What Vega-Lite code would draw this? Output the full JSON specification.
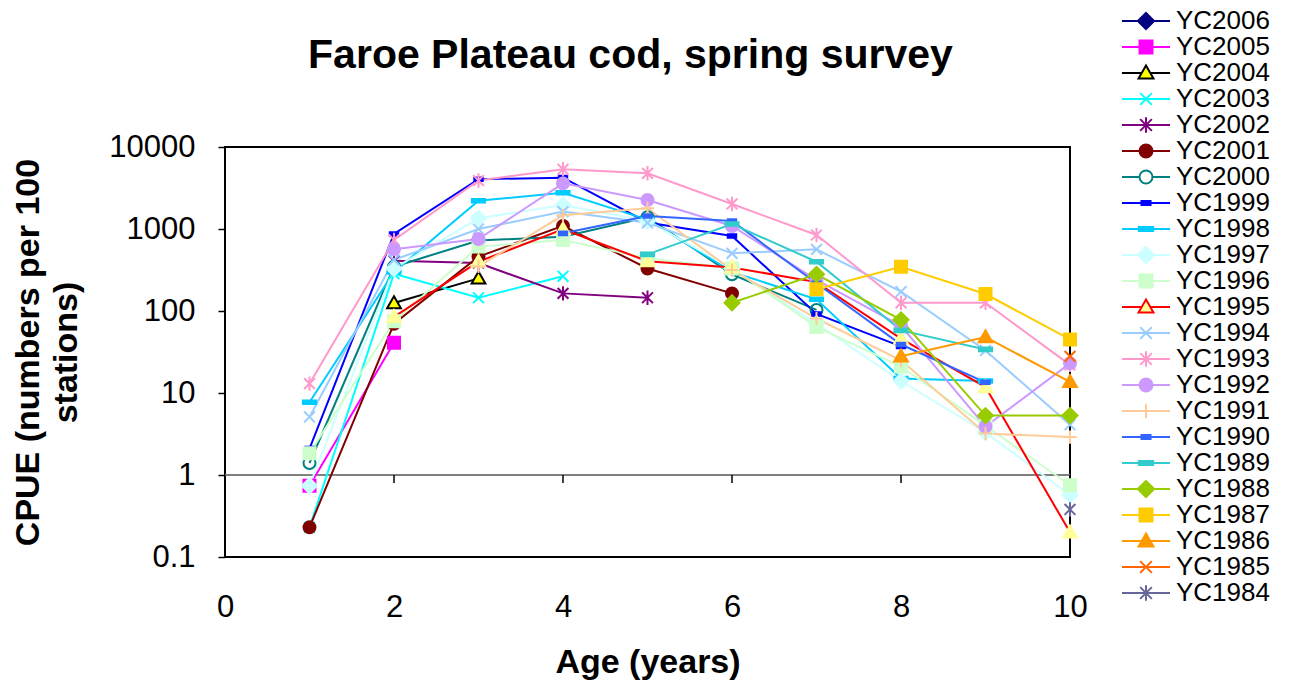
{
  "$schema": "https://vega.github.io/schema/vega-lite/v6.json",
  "width": 845,
  "height": 410,
  "autosize": {"type": "none"},
  "padding": {"left": 225, "top": 147, "right": 221, "bottom": 130},
  "background": "white",
  "config": {
    "font": "Liberation Sans",
    "view": {"stroke": "black", "strokeWidth": 2}
  },
  "title": {
    "text": "Faroe Plateau cod, spring survey",
    "fontSize": 41,
    "fontWeight": "bold",
    "font": "Liberation Sans",
    "color": "black",
    "frame": "group",
    "anchor": "middle",
    "offset": -69,
    "dx": -17
  },
  "data": {
    "values": [
      {"series": "YC2005", "age": 1, "cpue": 0.74},
      {"series": "YC2005", "age": 2, "cpue": 41},
      {"series": "YC2004", "age": 2, "cpue": 125},
      {"series": "YC2004", "age": 3, "cpue": 250},
      {"series": "YC2003", "age": 1, "cpue": 0.23},
      {"series": "YC2003", "age": 2, "cpue": 285},
      {"series": "YC2003", "age": 3, "cpue": 145},
      {"series": "YC2003", "age": 4, "cpue": 265},
      {"series": "YC2002", "age": 2, "cpue": 410},
      {"series": "YC2002", "age": 3, "cpue": 385},
      {"series": "YC2002", "age": 4, "cpue": 164},
      {"series": "YC2002", "age": 5, "cpue": 145},
      {"series": "YC2001", "age": 1, "cpue": 0.23},
      {"series": "YC2001", "age": 2, "cpue": 70},
      {"series": "YC2001", "age": 3, "cpue": 460},
      {"series": "YC2001", "age": 4, "cpue": 1090},
      {"series": "YC2001", "age": 5, "cpue": 330},
      {"series": "YC2001", "age": 6, "cpue": 164},
      {"series": "YC2000", "age": 1, "cpue": 1.4},
      {"series": "YC2000", "age": 2, "cpue": 347},
      {"series": "YC2000", "age": 3, "cpue": 725},
      {"series": "YC2000", "age": 4, "cpue": 805},
      {"series": "YC2000", "age": 5, "cpue": 1390},
      {"series": "YC2000", "age": 6, "cpue": 280},
      {"series": "YC2000", "age": 7, "cpue": 103},
      {"series": "YC1999", "age": 1, "cpue": 2.1},
      {"series": "YC1999", "age": 2, "cpue": 869},
      {"series": "YC1999", "age": 3, "cpue": 4050},
      {"series": "YC1999", "age": 4, "cpue": 4230},
      {"series": "YC1999", "age": 5, "cpue": 1200},
      {"series": "YC1999", "age": 6, "cpue": 822},
      {"series": "YC1999", "age": 7, "cpue": 92},
      {"series": "YC1999", "age": 8, "cpue": 37},
      {"series": "YC1998", "age": 1, "cpue": 7.7},
      {"series": "YC1998", "age": 2, "cpue": 300},
      {"series": "YC1998", "age": 3, "cpue": 2210},
      {"series": "YC1998", "age": 4, "cpue": 2770},
      {"series": "YC1998", "age": 5, "cpue": 1300},
      {"series": "YC1998", "age": 6, "cpue": 300},
      {"series": "YC1998", "age": 7, "cpue": 139},
      {"series": "YC1998", "age": 8, "cpue": 15},
      {"series": "YC1998", "age": 9, "cpue": 14},
      {"series": "YC1997", "age": 1, "cpue": 0.74},
      {"series": "YC1997", "age": 2, "cpue": 330},
      {"series": "YC1997", "age": 3, "cpue": 1350},
      {"series": "YC1997", "age": 4, "cpue": 1960},
      {"series": "YC1997", "age": 5, "cpue": 1250},
      {"series": "YC1997", "age": 6, "cpue": 330},
      {"series": "YC1997", "age": 7, "cpue": 70},
      {"series": "YC1997", "age": 8, "cpue": 14},
      {"series": "YC1997", "age": 9, "cpue": 3.3},
      {"series": "YC1997", "age": 10, "cpue": 0.57},
      {"series": "YC1996", "age": 1, "cpue": 1.84},
      {"series": "YC1996", "age": 2, "cpue": 75},
      {"series": "YC1996", "age": 3, "cpue": 610},
      {"series": "YC1996", "age": 4, "cpue": 735},
      {"series": "YC1996", "age": 5, "cpue": 440},
      {"series": "YC1996", "age": 6, "cpue": 330},
      {"series": "YC1996", "age": 7, "cpue": 64},
      {"series": "YC1996", "age": 8, "cpue": 21},
      {"series": "YC1996", "age": 9, "cpue": 4.0},
      {"series": "YC1996", "age": 10, "cpue": 0.75},
      {"series": "YC1995", "age": 2, "cpue": 85},
      {"series": "YC1995", "age": 3, "cpue": 400},
      {"series": "YC1995", "age": 4, "cpue": 990},
      {"series": "YC1995", "age": 5, "cpue": 405},
      {"series": "YC1995", "age": 6, "cpue": 340},
      {"series": "YC1995", "age": 7, "cpue": 225},
      {"series": "YC1995", "age": 8, "cpue": 46},
      {"series": "YC1995", "age": 9, "cpue": 11.8},
      {"series": "YC1995", "age": 10, "cpue": 0.2},
      {"series": "YC1994", "age": 1, "cpue": 5.1},
      {"series": "YC1994", "age": 2, "cpue": 420},
      {"series": "YC1994", "age": 3, "cpue": 1000},
      {"series": "YC1994", "age": 4, "cpue": 1630},
      {"series": "YC1994", "age": 5, "cpue": 1190},
      {"series": "YC1994", "age": 6, "cpue": 505},
      {"series": "YC1994", "age": 7, "cpue": 565},
      {"series": "YC1994", "age": 8, "cpue": 172},
      {"series": "YC1994", "age": 9, "cpue": 33},
      {"series": "YC1994", "age": 10, "cpue": 4.1},
      {"series": "YC1993", "age": 1, "cpue": 13},
      {"series": "YC1993", "age": 2, "cpue": 735},
      {"series": "YC1993", "age": 3, "cpue": 3900},
      {"series": "YC1993", "age": 4, "cpue": 5350},
      {"series": "YC1993", "age": 5, "cpue": 4780},
      {"series": "YC1993", "age": 6, "cpue": 2020},
      {"series": "YC1993", "age": 7, "cpue": 845},
      {"series": "YC1993", "age": 8, "cpue": 126},
      {"series": "YC1993", "age": 9, "cpue": 126},
      {"series": "YC1993", "age": 10, "cpue": 22},
      {"series": "YC1992", "age": 2, "cpue": 565},
      {"series": "YC1992", "age": 3, "cpue": 755},
      {"series": "YC1992", "age": 4, "cpue": 3600},
      {"series": "YC1992", "age": 5, "cpue": 2260},
      {"series": "YC1992", "age": 6, "cpue": 1090},
      {"series": "YC1992", "age": 7, "cpue": 239},
      {"series": "YC1992", "age": 8, "cpue": 66},
      {"series": "YC1992", "age": 9, "cpue": 3.9},
      {"series": "YC1992", "age": 10, "cpue": 23},
      {"series": "YC1991", "age": 3, "cpue": 350},
      {"series": "YC1991", "age": 4, "cpue": 1470},
      {"series": "YC1991", "age": 5, "cpue": 1790},
      {"series": "YC1991", "age": 6, "cpue": 316},
      {"series": "YC1991", "age": 7, "cpue": 81},
      {"series": "YC1991", "age": 8, "cpue": 25},
      {"series": "YC1991", "age": 9, "cpue": 3.2},
      {"series": "YC1991", "age": 10, "cpue": 2.9},
      {"series": "YC1990", "age": 4, "cpue": 885},
      {"series": "YC1990", "age": 5, "cpue": 1440},
      {"series": "YC1990", "age": 6, "cpue": 1250},
      {"series": "YC1990", "age": 7, "cpue": 218},
      {"series": "YC1990", "age": 8, "cpue": 39},
      {"series": "YC1990", "age": 9, "cpue": 13.5},
      {"series": "YC1989", "age": 5, "cpue": 491},
      {"series": "YC1989", "age": 6, "cpue": 1150},
      {"series": "YC1989", "age": 7, "cpue": 399},
      {"series": "YC1989", "age": 8, "cpue": 58},
      {"series": "YC1989", "age": 9, "cpue": 34},
      {"series": "YC1988", "age": 6, "cpue": 126},
      {"series": "YC1988", "age": 7, "cpue": 280},
      {"series": "YC1988", "age": 8, "cpue": 78},
      {"series": "YC1988", "age": 9, "cpue": 5.3},
      {"series": "YC1988", "age": 10, "cpue": 5.3},
      {"series": "YC1987", "age": 7, "cpue": 184},
      {"series": "YC1987", "age": 8, "cpue": 347},
      {"series": "YC1987", "age": 9, "cpue": 161},
      {"series": "YC1987", "age": 10, "cpue": 45},
      {"series": "YC1986", "age": 8, "cpue": 28},
      {"series": "YC1986", "age": 9, "cpue": 48},
      {"series": "YC1986", "age": 10, "cpue": 13.7},
      {"series": "YC1985", "age": 10, "cpue": 28},
      {"series": "YC1984", "age": 10, "cpue": 0.38}
    ]
  },
  "encoding": {
    "x": {
      "field": "age", "type": "quantitative",
      "scale": {"domain": [0, 10], "nice": false},
      "axis": {
        "values": [0, 2, 4, 6, 8, 10], "grid": false, "ticks": false, "tickSize": 0, "domain": false,
        "labelFlush": false, "labelOverlap": false,
        "labelFontSize": 31, "labelColor": "black", "labelPadding": 35, "labelFont": "Liberation Sans",
        "title": "Age (years)", "titleFontSize": 34, "titleFontWeight": "bold", "titleColor": "black",
        "titleFont": "Liberation Sans", "titlePadding": 23
      }
    },
    "y": {
      "field": "cpue", "type": "quantitative",
      "scale": {"type": "log", "domain": [0.1, 10000], "nice": false},
      "axis": {
        "values": [0.1, 1, 10, 100, 1000, 10000], "format": "~g", "grid": false, "domain": false,
        "labelFlush": false, "labelOverlap": false,
        "ticks": true, "tickSize": 7, "tickColor": "black", "tickWidth": 1.5,
        "labelFontSize": 31, "labelColor": "black", "labelPadding": 23, "labelFont": "Liberation Sans",
        "title": ["CPUE (numbers per 100", "stations)"], "titleFontSize": 34, "titleFontWeight": "bold",
        "titleColor": "black", "titleFont": "Liberation Sans", "titleLineHeight": 38, "titlePadding": 25
      }
    }
  },
  "resolve": {"scale": {"shape": "independent", "fill": "independent", "stroke": "independent"}},
  "layer": [
    {
      "data": {"values": [{"age": 0, "cpue": 1}]},
      "mark": {"type": "rule", "color": "#808080", "strokeWidth": 2},
      "encoding": {"x2": {"datum": 10}}
    },
    {
      "data": {"values": [{"age": 0, "cpue": 1}, {"age": 2, "cpue": 1}, {"age": 4, "cpue": 1}, {"age": 6, "cpue": 1}, {"age": 8, "cpue": 1}, {"age": 10, "cpue": 1}]},
      "mark": {"type": "rule", "color": "black", "strokeWidth": 1.5},
      "encoding": {"y2": {"datum": 0.8}}
    },
    {
      "mark": {"type": "line", "strokeWidth": 2},
      "encoding": {
        "color": {
          "field": "series", "type": "nominal", "legend": null,
          "scale": {
            "domain": ["YC2006","YC2005","YC2004","YC2003","YC2002","YC2001","YC2000","YC1999","YC1998","YC1997","YC1996","YC1995","YC1994","YC1993","YC1992","YC1991","YC1990","YC1989","YC1988","YC1987","YC1986","YC1985","YC1984"],
            "range": ["#000080","#FF00FF","#000000","#00FFFF","#800080","#800000","#008080","#0000FF","#00CCFF","#CCFFFF","#CCFFCC","#FF0000","#99CCFF","#FF99CC","#CC99FF","#FFCC99","#3366FF","#33CCCC","#99CC00","#FFCC00","#FF9900","#FF6600","#666699"]
          }
        }
      }
    },
    {
      "mark": {"type": "point", "size": 144, "strokeWidth": 2, "opacity": 1, "filled": false},
      "encoding": {
        "shape": {
          "field": "series", "type": "nominal", "legend": null,
          "scale": {
            "domain": ["YC2006","YC2005","YC2004","YC2003","YC2002","YC2001","YC2000","YC1999","YC1998","YC1997","YC1996","YC1995","YC1994","YC1993","YC1992","YC1991","YC1990","YC1989","YC1988","YC1987","YC1986","YC1985","YC1984"],
            "range": [
              "M0,-1.25L1.25,0L0,1.25L-1.25,0Z",
              "M-1,-1L1,-1L1,1L-1,1Z",
              "M0,-1.15L1.15,0.85L-1.15,0.85Z",
              "M-0.9,-0.9L0.9,0.9M-0.9,0.9L0.9,-0.9",
              "M-0.9,-0.9L0.9,0.9M-0.9,0.9L0.9,-0.9M0,-1.2L0,1.2",
              "M1,0A1,1,0,1,1,-1,0A1,1,0,1,1,1,0Z",
              "M1,0A1,1,0,1,1,-1,0A1,1,0,1,1,1,0Z",
              "M-0.7,-0.3L0.7,-0.3L0.7,0.3L-0.7,0.3Z",
              "M-1.1,-0.3L1.1,-0.3L1.1,0.3L-1.1,0.3Z",
              "M0,-1.25L1.25,0L0,1.25L-1.25,0Z",
              "M-1,-1L1,-1L1,1L-1,1Z",
              "M0,-1.15L1.15,0.85L-1.15,0.85Z",
              "M-0.9,-0.9L0.9,0.9M-0.9,0.9L0.9,-0.9",
              "M-0.9,-0.9L0.9,0.9M-0.9,0.9L0.9,-0.9M0,-1.2L0,1.2",
              "M1,0A1,1,0,1,1,-1,0A1,1,0,1,1,1,0Z",
              "M-1.1,0L1.1,0M0,-1.1L0,1.1",
              "M-0.7,-0.3L0.7,-0.3L0.7,0.3L-0.7,0.3Z",
              "M-1.1,-0.3L1.1,-0.3L1.1,0.3L-1.1,0.3Z",
              "M0,-1.25L1.25,0L0,1.25L-1.25,0Z",
              "M-1,-1L1,-1L1,1L-1,1Z",
              "M0,-1.15L1.15,0.85L-1.15,0.85Z",
              "M-0.9,-0.9L0.9,0.9M-0.9,0.9L0.9,-0.9",
              "M-0.9,-0.9L0.9,0.9M-0.9,0.9L0.9,-0.9M0,-1.2L0,1.2"
            ]
          }
        },
        "fill": {
          "field": "series", "type": "nominal", "legend": null,
          "scale": {
            "domain": ["YC2006","YC2005","YC2004","YC2003","YC2002","YC2001","YC2000","YC1999","YC1998","YC1997","YC1996","YC1995","YC1994","YC1993","YC1992","YC1991","YC1990","YC1989","YC1988","YC1987","YC1986","YC1985","YC1984"],
            "range": ["#000080","#FF00FF","#FFFF00","transparent","transparent","#800000","transparent","#0000FF","#00CCFF","#CCFFFF","#CCFFCC","#FFFF99","transparent","transparent","#CC99FF","transparent","#3366FF","#33CCCC","#99CC00","#FFCC00","#FF9900","transparent","transparent"]
          }
        },
        "stroke": {
          "field": "series", "type": "nominal", "legend": null,
          "scale": {
            "domain": ["YC2006","YC2005","YC2004","YC2003","YC2002","YC2001","YC2000","YC1999","YC1998","YC1997","YC1996","YC1995","YC1994","YC1993","YC1992","YC1991","YC1990","YC1989","YC1988","YC1987","YC1986","YC1985","YC1984"],
            "range": ["#000080","#FF00FF","#000000","#00FFFF","#800080","#800000","#008080","#0000FF","#00CCFF","#CCFFFF","#CCFFCC","#FFFF99","#99CCFF","#FF99CC","#CC99FF","#FFCC99","#3366FF","#33CCCC","#99CC00","#FFCC00","#FF9900","#FF6600","#666699"]
          }
        }
      }
    },
    {
      "transform": [{"filter": "false"}],
      "mark": {"type": "point", "size": 169, "strokeWidth": 2, "opacity": 1, "filled": false},
      "encoding": {
        "shape": {
          "field": "series", "type": "nominal",
          "legend": {"orient": "none", "legendX": 908, "legendY": -139, "title": null, "labelFontSize": 26, "labelFont": "Liberation Sans", "labelColor": "black", "symbolSize": 169, "symbolStrokeWidth": 2, "symbolOpacity": 1, "labelOffset": 17, "rowPadding": 0, "padding": 0},
          "scale": {
            "domain": ["YC2006","YC2005","YC2004","YC2003","YC2002","YC2001","YC2000","YC1999","YC1998","YC1997","YC1996","YC1995","YC1994","YC1993","YC1992","YC1991","YC1990","YC1989","YC1988","YC1987","YC1986","YC1985","YC1984"],
            "range": [
              "M0,-1.25L1.25,0L0,1.25L-1.25,0Z M-3.7,0L-1.25,0M1.25,0L3.7,0",
              "M-1,-1L1,-1L1,1L-1,1Z M-3.7,0L-1,0M1,0L3.7,0",
              "M0,-1.15L1.15,0.85L-1.15,0.85Z M-3.7,0L-0.66,0M0.66,0L3.7,0",
              "M-0.9,-0.9L0.9,0.9M-0.9,0.9L0.9,-0.9 M-3.7,0L3.7,0",
              "M-0.9,-0.9L0.9,0.9M-0.9,0.9L0.9,-0.9M0,-1.2L0,1.2 M-3.7,0L3.7,0",
              "M1,0A1,1,0,1,1,-1,0A1,1,0,1,1,1,0Z M-3.7,0L-1,0M1,0L3.7,0",
              "M1,0A1,1,0,1,1,-1,0A1,1,0,1,1,1,0Z M-3.7,0L-1,0M1,0L3.7,0",
              "M-0.7,-0.3L0.7,-0.3L0.7,0.3L-0.7,0.3Z M-3.7,0L3.7,0",
              "M-1.1,-0.3L1.1,-0.3L1.1,0.3L-1.1,0.3Z M-3.7,0L3.7,0",
              "M0,-1.25L1.25,0L0,1.25L-1.25,0Z M-3.7,0L-1.25,0M1.25,0L3.7,0",
              "M-1,-1L1,-1L1,1L-1,1Z M-3.7,0L-1,0M1,0L3.7,0",
              "M0,-1.15L1.15,0.85L-1.15,0.85Z M-3.7,0L-0.66,0M0.66,0L3.7,0",
              "M-0.9,-0.9L0.9,0.9M-0.9,0.9L0.9,-0.9 M-3.7,0L3.7,0",
              "M-0.9,-0.9L0.9,0.9M-0.9,0.9L0.9,-0.9M0,-1.2L0,1.2 M-3.7,0L3.7,0",
              "M1,0A1,1,0,1,1,-1,0A1,1,0,1,1,1,0Z M-3.7,0L-1,0M1,0L3.7,0",
              "M0,-1.1L0,1.1 M-3.7,0L3.7,0",
              "M-0.7,-0.3L0.7,-0.3L0.7,0.3L-0.7,0.3Z M-3.7,0L3.7,0",
              "M-1.1,-0.3L1.1,-0.3L1.1,0.3L-1.1,0.3Z M-3.7,0L3.7,0",
              "M0,-1.25L1.25,0L0,1.25L-1.25,0Z M-3.7,0L-1.25,0M1.25,0L3.7,0",
              "M-1,-1L1,-1L1,1L-1,1Z M-3.7,0L-1,0M1,0L3.7,0",
              "M0,-1.15L1.15,0.85L-1.15,0.85Z M-3.7,0L-0.66,0M0.66,0L3.7,0",
              "M-0.9,-0.9L0.9,0.9M-0.9,0.9L0.9,-0.9 M-3.7,0L3.7,0",
              "M-0.9,-0.9L0.9,0.9M-0.9,0.9L0.9,-0.9M0,-1.2L0,1.2 M-3.7,0L3.7,0"
            ]
          }
        },
        "fill": {
          "field": "series", "type": "nominal",
          "legend": {"orient": "none", "legendX": 908, "legendY": -139, "title": null, "labelFontSize": 26, "labelFont": "Liberation Sans", "labelColor": "black", "symbolSize": 169, "symbolStrokeWidth": 2, "symbolOpacity": 1, "labelOffset": 17, "rowPadding": 0, "padding": 0},
          "scale": {
            "domain": ["YC2006","YC2005","YC2004","YC2003","YC2002","YC2001","YC2000","YC1999","YC1998","YC1997","YC1996","YC1995","YC1994","YC1993","YC1992","YC1991","YC1990","YC1989","YC1988","YC1987","YC1986","YC1985","YC1984"],
            "range": ["#000080","#FF00FF","#FFFF00","transparent","transparent","#800000","white","#0000FF","#00CCFF","#CCFFFF","#CCFFCC","#FFFF99","transparent","transparent","#CC99FF","transparent","#3366FF","#33CCCC","#99CC00","#FFCC00","#FF9900","transparent","transparent"]
          }
        },
        "stroke": {
          "field": "series", "type": "nominal",
          "legend": {"orient": "none", "legendX": 908, "legendY": -139, "title": null, "labelFontSize": 26, "labelFont": "Liberation Sans", "labelColor": "black", "symbolSize": 169, "symbolStrokeWidth": 2, "symbolOpacity": 1, "labelOffset": 17, "rowPadding": 0, "padding": 0},
          "scale": {
            "domain": ["YC2006","YC2005","YC2004","YC2003","YC2002","YC2001","YC2000","YC1999","YC1998","YC1997","YC1996","YC1995","YC1994","YC1993","YC1992","YC1991","YC1990","YC1989","YC1988","YC1987","YC1986","YC1985","YC1984"],
            "range": ["#000080","#FF00FF","#000000","#00FFFF","#800080","#800000","#008080","#0000FF","#00CCFF","#CCFFFF","#CCFFCC","#FF0000","#99CCFF","#FF99CC","#CC99FF","#FFCC99","#3366FF","#33CCCC","#99CC00","#FFCC00","#FF9900","#FF6600","#666699"]
          }
        }
      }
    }
  ]
}
